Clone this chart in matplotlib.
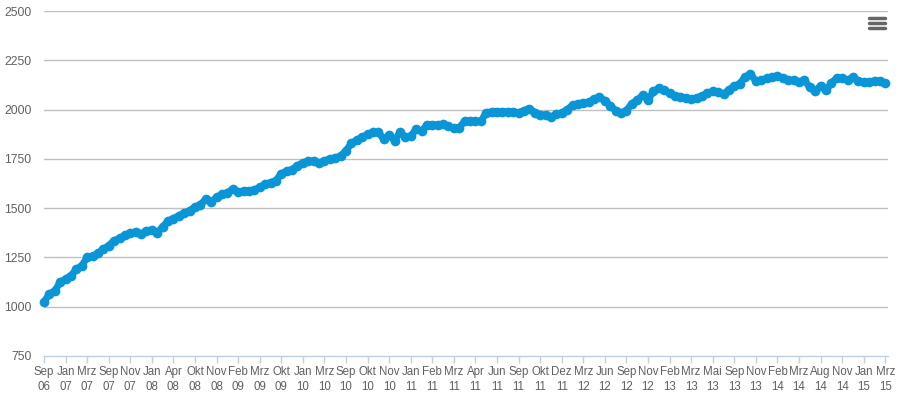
import matplotlib
matplotlib.use("Agg")
import matplotlib.pyplot as plt
import numpy as np
from matplotlib.lines import Line2D

plt.rcParams["font.family"] = ["Liberation Sans", "DejaVu Sans"]

# tick labels (every 4th category is labelled)
tick_labels = [
    "Sep\n06", "Jan\n07", "Mrz\n07", "Sep\n07", "Nov\n07", "Jan\n08", "Apr\n08", "Okt\n08",
    "Nov\n08", "Feb\n09", "Mrz\n09", "Okt\n09", "Jan\n10", "Mrz\n10", "Sep\n10", "Okt\n10",
    "Nov\n10", "Jan\n11", "Feb\n11", "Mrz\n11", "Apr\n11", "Jun\n11", "Sep\n11", "Okt\n11",
    "Dez\n11", "Mrz\n12", "Jun\n12", "Sep\n12", "Nov\n12", "Feb\n13", "Mrz\n13", "Mai\n13",
    "Sep\n13", "Nov\n13", "Feb\n14", "Mrz\n14", "Aug\n14", "Nov\n14", "Jan\n15", "Mrz\n15",
]
label_step = 4

values = [
    1024, 1065, 1080, 1125, 1140, 1158, 1190, 1208, 1250, 1256,
    1270, 1292, 1310, 1335, 1347, 1362, 1374, 1380, 1370, 1385,
    1390, 1376, 1405, 1435, 1447, 1462, 1474, 1488, 1505, 1518,
    1545, 1532, 1555, 1570, 1578, 1597, 1584, 1586, 1588, 1592,
    1606, 1622, 1630, 1640, 1675, 1688, 1696, 1716, 1730, 1738,
    1740, 1728, 1740, 1750, 1754, 1765, 1792, 1828, 1846, 1860,
    1874, 1884, 1885, 1850, 1870, 1842, 1884, 1862, 1866, 1900,
    1890, 1922, 1923, 1923, 1925, 1915, 1905, 1908, 1942, 1943,
    1943, 1940, 1985, 1988, 1990, 1990, 1990, 1990, 1984, 1995,
    2005, 1985, 1975, 1970, 1962, 1978, 1982, 2000, 2022, 2030,
    2034, 2036, 2055, 2062, 2046, 2020, 1995, 1983, 1995, 2030,
    2048, 2072, 2050, 2092, 2108, 2098, 2082, 2070, 2066, 2060,
    2054, 2060, 2068, 2085, 2092, 2090, 2078, 2100, 2118, 2132,
    2165, 2180, 2145, 2148, 2158, 2166, 2170, 2160, 2150, 2148,
    2140, 2150, 2112, 2092, 2122, 2097, 2135, 2160, 2158, 2150,
    2164, 2145, 2140, 2142, 2145, 2143, 2135,
]

yticks = [750, 1000, 1250, 1500, 1750, 2000, 2250, 2500]

W, H = 904, 396
fig = plt.figure(figsize=(W / 100, H / 100), dpi=100)
ax = fig.add_axes([44 / W, 1 - 356 / H, (888 - 44) / W, (356 - 11) / H])

x = np.arange(len(values))
ax.plot(x, values, color="#0a96d6", lw=5, marker="o", ms=7,
        markeredgewidth=0, solid_joinstyle="round", solid_capstyle="round",
        clip_on=False, zorder=3)

ax.set_ylim(750, 2500)
ax.set_xlim(0, len(values) - 0.5)
ax.set_yticks(yticks)
ax.set_yticklabels([str(v) for v in yticks])
ax.set_xticks(np.arange(len(tick_labels)) * label_step)
ax.set_xticklabels(tick_labels, linespacing=1.35)

for v in yticks[1:]:
    ax.axhline(v, color="#c0c0c0", lw=1, zorder=1)

for s in ["top", "right", "left"]:
    ax.spines[s].set_visible(False)
ax.spines["bottom"].set_color("#c0d0e0")
ax.spines["bottom"].set_linewidth(1)

ax.tick_params(axis="y", length=0, pad=9, labelsize=8.8, labelcolor="#606060")
ax.tick_params(axis="x", length=5, width=1, color="#c0d0e0", pad=2,
               labelsize=8.3, labelcolor="#606060")

# export menu icon
for yy in (18, 23, 28):
    fig.add_artist(Line2D([869 / W, 885 / W], [1 - yy / H, 1 - yy / H],
                          color="#666666", lw=2.5, solid_capstyle="round"))

fig.savefig("out.png", dpi=100)
